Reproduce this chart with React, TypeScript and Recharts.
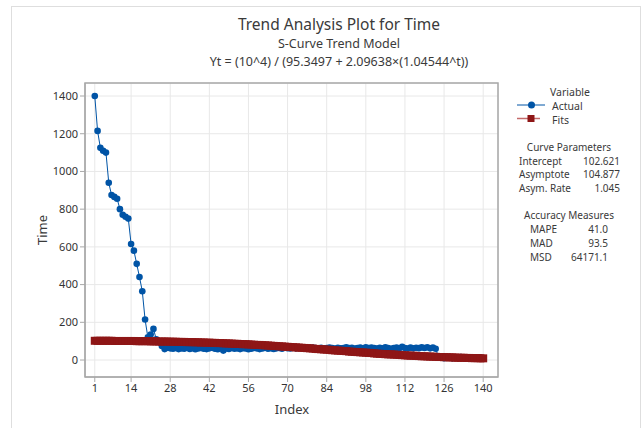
import {
  ComposedChart,
  Line,
  CartesianGrid,
  XAxis,
  YAxis,
  ReferenceArea,
} from "recharts";

const indexValues = Array.from({ length: 140 }, (_, i) => i + 1);

const actual = [
  1400, 1215, 1125, 1110, 1100, 940, 875, 865, 855, 800,
  770, 760, 750, 615, 580, 510, 440, 365, 215, 120,
  135, 165, 110, 95, 75, 58, 65, 62, 60, 64,
  58, 62, 60, 66, 59, 63, 57, 61, 64, 60,
  58, 62, 65, 60, 57, 63, 50, 61, 59, 64,
  60, 62, 58, 63, 61, 57, 60, 64, 62, 58,
  61, 65, 60, 63, 59, 62, 64, 60, 66, 63,
  61, 65, 62, 67, 63, 60, 64, 62, 66, 63,
  61, 65, 62, 64, 66, 63, 61, 65, 62, 64,
  67, 63, 65, 61, 64, 66, 62, 68, 64, 66,
  63, 61, 65, 62, 67, 64, 60, 63, 66, 62,
  70, 64, 61, 66, 62, 65, 63, 67, 64, 68,
  62, 66, 60, 18, 14, 10, 15, 12, 9, 14,
  11, 16, 12, 8, 13, 10, 14, 9, 15, 8,
];

const fits = [
  102, 102, 102, 102, 102, 102, 102, 101, 101, 101,
  101, 101, 101, 101, 101, 100, 100, 100, 100, 100,
  99, 99, 99, 98, 98, 98, 98, 97, 97, 97,
  96, 96, 96, 95, 95, 95, 94, 94, 93, 93,
  92, 92, 91, 91, 90, 90, 89, 88, 88, 87,
  86, 86, 85, 84, 84, 83, 82, 81, 80, 80,
  79, 78, 77, 76, 75, 74, 73, 72, 71, 70,
  69, 68, 67, 66, 65, 64, 63, 62, 61, 59,
  58, 57, 56, 55, 54, 52, 51, 50, 49, 48,
  47, 45, 44, 43, 42, 41, 40, 39, 38, 37,
  35, 34, 33, 32, 31, 30, 30, 29, 28, 27,
  26, 25, 24, 23, 23, 22, 21, 20, 20, 19,
  18, 18, 17, 16, 16, 15, 15, 14, 14, 13,
  12, 12, 12, 11, 11, 10, 10, 10, 9, 9,
];

const xTicks = [1, 14, 28, 42, 56, 70, 84, 98, 112, 126, 140];
const yTicks = [0, 200, 400, 600, 800, 1000, 1200, 1400];

const curveParams = [
  ["Intercept", "102.621"],
  ["Asymptote", "104.877"],
  ["Asym. Rate", "1.045"],
];
const accuracy = [
  ["MAPE", "41.0"],
  ["MAD", "93.5"],
  ["MSD", "64171.1"],
];

const data = indexValues.map((t, i) => ({ t, actual: actual[i], fits: fits[i] }));

const BLUE = "#0054a6";
const RED = "#8e1616";
const FONT = "'Noto Sans', sans-serif";
const X_DOMAIN: [number, number] = [-2.5, 145.3];
const Y_DOMAIN: [number, number] = [-90, 1469];

const txt = (x: number, y: number, extra: any = {}) => ({
  position: "absolute" as const,
  left: x,
  top: y,
  whiteSpace: "nowrap" as const,
  lineHeight: 1,
  ...extra,
});

function SquareDot(props: any) {
  const { cx, cy, index } = props;
  if (cx == null || cy == null) return null;
  return <rect key={"f" + index} x={cx - 4} y={cy - 4} width={8} height={8} fill={RED} />;
}

function CircleDot(props: any) {
  const { cx, cy, index } = props;
  if (cx == null || cy == null) return null;
  return <circle key={"a" + index} cx={cx} cy={cy} r={3.3} fill={BLUE} />;
}

export default function App() {
  return (
    <div
      style={{
        position: "absolute",
        left: 0,
        top: 0,
        width: 641,
        height: 428,
        background: "#fff",
        fontFamily: FONT,
        color: "#3a3a3a",
        overflow: "hidden",
      }}
    >
      <div
        style={{
          position: "absolute",
          left: 11,
          top: 6,
          width: 628,
          height: 440,
          border: "1px solid #dedede",
        }}
      />

      <ComposedChart
        width={641}
        height={428}
        data={data}
        margin={{ top: 83, right: 143, left: 45, bottom: 21 }}
        style={{ position: "absolute", left: 0, top: 0 }}
      >
        <CartesianGrid stroke="#e8e8e8" />
        <XAxis
          dataKey="t"
          type="number"
          domain={X_DOMAIN}
          ticks={xTicks}
          allowDataOverflow
          height={30}
          tickSize={5}
          tickMargin={2}
          stroke="#a8a8a8"
          tick={{ fill: "#333", fontSize: 11, fontFamily: FONT }}
        />
        <YAxis
          type="number"
          domain={Y_DOMAIN}
          ticks={yTicks}
          allowDataOverflow
          width={40}
          tickSize={5}
          tickMargin={2}
          stroke="#a8a8a8"
          tick={{ fill: "#333", fontSize: 11, fontFamily: FONT }}
        />
        <ReferenceArea
          x1={X_DOMAIN[0]}
          x2={X_DOMAIN[1]}
          y1={Y_DOMAIN[0]}
          y2={Y_DOMAIN[1]}
          fill="none"
          stroke="#a8a8a8"
          strokeWidth={1.5}
        />
        <Line
          dataKey="actual"
          type="linear"
          stroke={BLUE}
          strokeWidth={1}
          dot={CircleDot}
          activeDot={false}
          isAnimationActive={false}
        />
        <Line
          dataKey="fits"
          type="linear"
          stroke={RED}
          strokeWidth={1}
          dot={SquareDot}
          activeDot={false}
          isAnimationActive={false}
        />
      </ComposedChart>

      <div style={txt(0, 17, { width: 678, textAlign: "center", fontSize: 15.5 })}>
        Trend Analysis Plot for Time
      </div>
      <div style={txt(0, 38, { width: 678, textAlign: "center", fontSize: 12.5 })}>
        S-Curve Trend Model
      </div>
      <div style={txt(0, 56, { width: 678, textAlign: "center", fontSize: 12.5 })}>
        Yt = (10^4) / (95.3497 + 2.09638×(1.04544^t))
      </div>

      <div
        style={txt(42, 230, {
          fontSize: 13,
          transform: "translate(-50%, -50%) rotate(-90deg)",
        })}
      >
        Time
      </div>
      <div style={txt(292, 409, { fontSize: 13, transform: "translate(-50%, -50%)" })}>
        Index
      </div>

      <div style={txt(570, 92, { fontSize: 10.5, transform: "translate(-50%, -50%)" })}>
        Variable
      </div>
      <svg style={{ position: "absolute", left: 512, top: 98 }} width={40} height={28}>
        <line x1={5} y1={7} x2={33} y2={7} stroke={BLUE} strokeWidth={1} />
        <circle cx={19.5} cy={7} r={3.5} fill={BLUE} />
        <line x1={5} y1={20.5} x2={28} y2={20.5} stroke="#c46a6a" strokeWidth={1.5} />
        <rect x={15.5} y={17} width={7} height={7} fill={RED} />
      </svg>
      <div style={txt(552, 106, { fontSize: 10.5, transform: "translateY(-50%)" })}>Actual</div>
      <div style={txt(552, 120, { fontSize: 10.5, transform: "translateY(-50%)" })}>Fits</div>

      <div style={txt(569, 147, { fontSize: 10, transform: "translate(-50%, -50%)" })}>
        Curve Parameters
      </div>
      {curveParams.map(([k, v], i) => (
        <div key={k}>
          <div style={txt(519, 160.5 + i * 13.5, { fontSize: 10, transform: "translateY(-50%)" })}>
            {k}
          </div>
          <div
            style={txt(520, 160.5 + i * 13.5, {
              fontSize: 10,
              width: 100,
              textAlign: "right",
              transform: "translateY(-50%)",
            })}
          >
            {v}
          </div>
        </div>
      ))}

      <div style={txt(569, 215, { fontSize: 10, transform: "translate(-50%, -50%)" })}>
        Accuracy Measures
      </div>
      {accuracy.map(([k, v], i) => (
        <div key={k}>
          <div style={txt(530, 229 + i * 14, { fontSize: 10, transform: "translateY(-50%)" })}>
            {k}
          </div>
          <div
            style={txt(508, 229 + i * 14, {
              fontSize: 10,
              width: 100,
              textAlign: "right",
              transform: "translateY(-50%)",
            })}
          >
            {v}
          </div>
        </div>
      ))}
    </div>
  );
}
